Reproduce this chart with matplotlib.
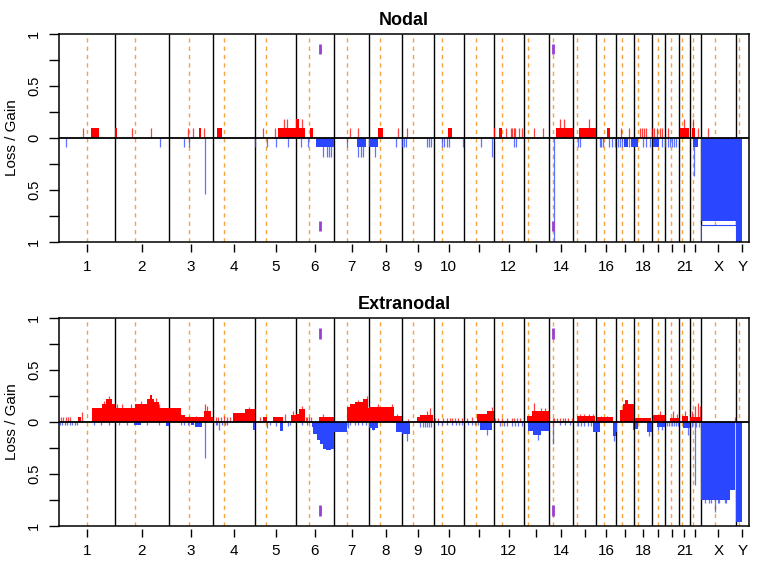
import matplotlib
matplotlib.use("Agg")
from matplotlib import pyplot as plt
from matplotlib.patches import Rectangle
import numpy as np

plt.rcParams["font.family"] = ["Liberation Sans", "DejaVu Sans"]

# hg19 chromosome sizes and centromere midpoints (Mb)
chrom_names = [str(i) for i in range(1, 23)] + ["X", "Y"]
chrom_len = [249.25, 243.2, 198.02, 191.15, 180.92, 171.12, 159.14, 146.36, 141.21, 135.53,
             135.01, 133.85, 115.17, 107.35, 102.53, 90.35, 81.2, 78.08, 59.13, 63.03,
             48.13, 51.3, 155.27, 59.37]
centromere = [125.0, 93.3, 91.0, 50.4, 48.4, 61.0, 59.9, 45.6, 49.0, 40.2, 53.7, 35.8,
              17.9, 17.6, 19.0, 36.6, 24.0, 17.2, 26.5, 27.5, 13.2, 14.7, 60.6, 12.5]
tick_labels = ["1", "2", "3", "4", "5", "6", "7", "8", "9", "10", "", "12", "", "14", "",
               "16", "", "18", "", "", "21", "", "X", "Y"]

# Nodal: (chrom, start Mb, end Mb, frequency)
nodal_gain_seg = [
    ("1", 142, 181, .091), ("2", 0, 9, .091), ("3", 134, 145, .091), ("4", 20, 40, .091),
    ("5", 103, 180.9, .091), ("6", 0, 41, .091), ("6", 0, 14, .182), ("6", 63, 78, .091),
    ("8", 40, 62, .091), ("10", 66, 81, .091), ("12", 0, 5, .091), ("12", 24, 35, .091),
    ("14", 30, 105, .091), ("15", 27, 102, .091), ("16", 47, 62, .091),
    ("21", 4, 46, .091), ("22", 9, 24, .091),
]
# Nodal single-probe bars: (chrom, position Mb, frequency)
nodal_gain_pts = [
    ("1", 109, .091), ("2", 79, .091), ("2", 162, .091), ("3", 87, .091), ("3", 110, .091),
    ("3", 158, .091), ("5", 35, .091), ("5", 86, .091), ("5", 128, .182), ("5", 143, .182),
    ("6", 28, .182), ("7", 72, .091), ("7", 109, .091), ("8", 129, .091), ("9", 20, .091),
    ("12", 56, .091), ("12", 76, .091), ("12", 83, .091), ("12", 90, .091), ("12", 97, .091),
    ("12", 114, .091), ("12", 128, .091), ("13", 46, .091), ("13", 88, .091),
    ("14", 47, .182), ("14", 65, .182), ("15", 70, .182), ("17", 20, .091), ("17", 58, .091),
    ("18", 27, .091), ("18", 36, .091), ("18", 43, .091), ("18", 54, .091),
    ("19", 2, .091), ("19", 12, .091), ("19", 23, .091), ("19", 35, .091), ("19", 46, .091),
    ("20", 15, .091), ("21", 22, .182), ("22", 15, .182), ("22", 39, .091), ("X", 32, .091),
]
nodal_loss_seg = [
    ("6", 90, 171.1, .091), ("7", 102, 142, .091), ("8", 0, 40, .091),
    ("17", 36, 51, .091), ("17", 66, 81.2, .091), ("18", 0, 15, .091), ("19", 7, 32, .091),
    ("22", 16, 39, .091), ("X", 0, 155.27, .8), ("Y", 0, 27, 1.0),
]
nodal_loss_pts = [
    ("1", 33, .091), ("2", 204, .091), ("3", 68, .091), ("3", 90, .091), ("3", 161, .545),
    ("4", 188, .091), ("5", 50, .091), ("5", 91, .091), ("5", 145, .091),
    ("6", 22, .091), ("6", 53, .091), ("6", 123, .182), ("6", 138, .182), ("6", 148, .182),
    ("6", 160, .182), ("7", 57, .091), ("7", 109, .182), ("7", 121, .182), ("7", 132, .182),
    ("8", 25, .182), ("8", 118, .091), ("9", 1, .091), ("9", 9, .091), ("9", 18, .091),
    ("9", 114, .091), ("9", 123, .091), ("9", 132, .091), ("10", 37, .091), ("10", 48, .091),
    ("10", 59, .091), ("10", 70, .091), ("10", 133, .091), ("11", 77, .091), ("11", 129, .182),
    ("12", 89, .091), ("12", 98, .091), ("14", 20, 1.0), ("15", 23, .091), ("15", 30, .091),
    ("16", 17, .091), ("16", 22, .091), ("16", 33, .091), ("16", 58, .091), ("16", 73, .091),
    ("16", 85, .091), ("17", 7, .091), ("17", 18, .091), ("17", 28, .091), ("17", 59, .091),
    ("18", 41, .091), ("18", 52, .091), ("18", 71, .091), ("19", 48, .091),
    ("20", 2, .091), ("20", 13, .091), ("20", 23, .091), ("20", 32, .091), ("20", 41, .091),
    ("20", 50, .091), ("22", 21, .364),
]
nodal_x_outline = ("X", 0, 155.27, .835)

# Extranodal
extra_gain_seg = [
    ("1", 85, 100, .05), ("1", 150, 194, .135), ("1", 194, 209, .17), ("1", 209, 239, .215),
    ("1", 239, 249.2, .17), ("2", 0, 94, .135), ("2", 94, 146, .17), ("2", 146, 176, .215),
    ("2", 157, 167, .26), ("2", 176, 198, .19), ("2", 198, 243.2, .135),
    ("3", 0, 53, .135), ("3", 53, 75, .07), ("3", 75, 158, .042), ("3", 158, 188, .1),
    ("3", 188, 198, .05), ("4", 90, 144, .085), ("4", 144, 189, .125),
    ("5", 35, 50, .05), ("5", 80, 125, .042), ("5", 160, 180.9, .07),
    ("6", 0, 15, .08), ("6", 15, 40, .12), ("6", 105, 170, .042),
    ("7", 57, 72, .14), ("7", 72, 94, .17), ("7", 94, 131, .19), ("7", 131, 154, .22),
    ("7", 154, 159.1, .13), ("8", 0, 110, .14), ("8", 110, 146.3, .06),
    ("9", 65, 80, .042), ("9", 80, 140, .07), ("11", 58, 103, .08), ("11", 103, 135, .1),
    ("13", 13, 36, .06), ("13", 36, 115, .1), ("15", 15, 97, .06), ("16", 2, 77, .045),
    ("17", 17, 31, .11), ("17", 31, 81.2, .17), ("17", 39, 54, .21), ("18", 3, 76, .035),
    ("19", 7, 59, .064), ("20", 22, 63, .04), ("21", 12, 42, .06), ("22", 2, 51, .05),
]
extra_gain_pts = [
    ("1", 7, .042), ("1", 18, .042), ("1", 30, .042), ("1", 40, .042), ("1", 49, .042),
    ("1", 102, .09), ("1", 200, .2), ("1", 225, .25), ("2", 12, .17), ("2", 35, .17),
    ("2", 72, .17), ("2", 120, .2), ("2", 185, .23), ("2", 200, .17),
    ("3", 93, .06), ("3", 121, .06), ("3", 163, .176), ("3", 170, .15),
    ("4", 15, .042), ("4", 25, .042), ("4", 38, .042), ("4", 50, .06), ("4", 62, .042),
    ("4", 75, .042), ("4", 160, .14), ("5", 20, .042), ("5", 132, .08), ("5", 170, .1),
    ("6", 29, .15), ("6", 45, .042), ("6", 52, .042), ("6", 58, .042), ("6", 66, .042),
    ("6", 123, .08), ("7", 110, .21), ("7", 150, .25), ("8", 40, .17), ("8", 100, .17),
    ("8", 125, .08), ("9", 28, .03), ("9", 110, .1), ("9", 125, .13),
    ("10", 5, .035), ("10", 20, .035), ("10", 44, .035), ("10", 60, .035), ("10", 73, .035),
    ("10", 85, .035), ("10", 96, .035), ("10", 111, .035), ("10", 126, .035),
    ("11", 13, .035), ("11", 36, .042), ("11", 125, .14),
    ("12", 5, .035), ("12", 20, .035), ("12", 35, .035), ("12", 57, .035), ("12", 80, .035),
    ("12", 90, .035), ("12", 102, .035), ("12", 117, .035),
    ("13", 46, .18), ("13", 76, .13), ("13", 96, .13),
    ("14", 15, .04), ("14", 22, .04), ("14", 33, .04), ("14", 48, .04), ("14", 60, .04),
    ("14", 70, .04), ("14", 85, .04), ("14", 100, .04),
    ("15", 30, .08), ("15", 50, .08), ("15", 70, .08), ("15", 88, .08),
    ("16", 20, .06), ("16", 50, .06), ("19", 37, .1), ("20", 37, .1), ("20", 56, .08),
    ("21", 28, .1), ("22", 9, .1), ("22", 24, .15), ("22", 36, .18), ("22", 46, .15),
    ("X", 150, .05),
]
extra_loss_seg = [
    ("2", 87, 117, .035), ("2", 229, 243, .04), ("3", 100, 115, .035), ("3", 120, 150, .048),
    ("4", 181, 190, .075), ("5", 110, 125, .09),
    ("6", 71, 78, .05), ("6", 78, 93, .12), ("6", 93, 108, .17), ("6", 108, 123, .21),
    ("6", 123, 171.1, .26), ("6", 135, 160, .27), ("7", 0, 57, .096),
    ("8", 0, 40, .06), ("8", 10, 25, .08), ("8", 120, 146.3, .1), ("9", 0, 35, .12),
    ("11", 73, 125, .08), ("13", 21, 115, .09), ("13", 40, 80, .13),
    ("15", 90, 102.5, .096), ("16", 0, 17, .096), ("16", 75, 90.3, .14),
    ("17", 0, 5, .1), ("17", 76, 81.2, .08), ("18", 3, 18, .07), ("18", 55, 78, .1),
    ("19", 22, 59, .05), ("21", 19, 48, .06),
    ("X", 0, 129, .753), ("X", 129, 150, .657), ("Y", 0, 27, .96),
]
extra_loss_pts = [
    ("1", 3, .035), ("1", 15, .035), ("1", 25, .035), ("1", 37, .035), ("1", 48, .035),
    ("1", 60, .035), ("1", 72, .035), ("1", 79, .035), ("1", 157, .035), ("1", 187, .035),
    ("1", 224, .035), ("2", 20, .035), ("2", 57, .035), ("2", 146, .035), ("2", 198, .035),
    ("3", 53, .035), ("3", 70, .035), ("3", 85, .035), ("3", 161, .35),
    ("4", 12, .035), ("4", 20, .035), ("4", 27, .08), ("4", 40, .035), ("4", 55, .035),
    ("4", 64, .035), ("5", 50, .06), ("5", 65, .035), ("5", 91, .04), ("5", 147, .04),
    ("5", 155, .035), ("6", 26, .035), ("6", 48, .035),
    ("7", 65, .06), ("7", 72, .03), ("7", 94, .03), ("7", 108, .03), ("7", 126, .03),
    ("7", 144, .03), ("8", 18, .08), ("9", 20, .18), ("9", 82, .05), ("9", 92, .05),
    ("9", 102, .05), ("9", 112, .05), ("9", 122, .05), ("9", 132, .05),
    ("10", 20, .03), ("10", 36, .03), ("10", 60, .03), ("10", 85, .03), ("10", 100, .03),
    ("10", 115, .03), ("10", 130, .03), ("11", 20, .03), ("11", 35, .03), ("11", 50, .03),
    ("11", 65, .03), ("11", 103, .13), ("12", 27, .04), ("12", 45, .04), ("12", 60, .04),
    ("12", 80, .04), ("12", 95, .04), ("12", 110, .04), ("12", 125, .04), ("13", 63, .176),
    ("14", 18, .21), ("14", 47, .03), ("14", 70, .03), ("14", 92, .03),
    ("15", 20, .04), ("15", 35, .04), ("15", 50, .04), ("15", 65, .04), ("15", 80, .04),
    ("16", 82, .18), ("18", 65, .14), ("19", 30, .08), ("19", 45, .08),
    ("20", 8, .04), ("20", 20, .04), ("20", 30, .04), ("20", 40, .04), ("20", 50, .04),
    ("20", 60, .04), ("21", 42, .13), ("22", 10, .05), ("22", 24, .61), ("22", 30, .05),
    ("22", 40, .05), ("X", 16, .78), ("X", 35, .78), ("X", 42, .78), ("X", 75, .78),
    ("X", 80, .78), ("X", 105, .78), ("X", 112, .78), ("X", 63, .865),
]

# marked loci (chrom, Mb)
marker_chrom = ["6", "14"]
marker_pos = [106.5, 18.0]

RED = "#ff0000"
BLUE = "#2b46ff"
ORANGE = "#f3a33f"
PURPLE = "#9a3fd0"

starts = np.concatenate([[0], np.cumsum(chrom_len)[:-1]])
offset = dict(zip(chrom_names, starts))
total = float(np.sum(chrom_len))
mids = starts + np.array(chrom_len) / 2


def draw_seg(ax, segs, color, sign):
    x = [offset[c] + s for c, s, e, v in segs]
    w = [e - s for c, s, e, v in segs]
    h = [sign * v for c, s, e, v in segs]
    ax.bar(x, h, width=w, align="edge", color=color, linewidth=0, zorder=3)


def draw_pts(ax, pts, color, sign):
    # single-probe bars drawn as 1px strokes
    for c, p, v in pts:
        ax.plot([offset[c] + p] * 2, [0, sign * v], color=color, lw=0.9, alpha=0.75,
                solid_capstyle="butt", zorder=3)


fig = plt.figure(figsize=(7.59, 5.67), dpi=100)

panels = [
    ("Nodal", [0.0777, 0.5737, 0.9091, 0.3672], nodal_gain_seg, nodal_gain_pts,
     nodal_loss_seg, nodal_loss_pts),
    ("Extranodal", [0.0777, 0.0723, 0.9091, 0.3674], extra_gain_seg, extra_gain_pts,
     extra_loss_seg, extra_loss_pts),
]

for i, (title, rect, gseg, gpts, lseg, lpts) in enumerate(panels):
    ax = fig.add_axes(rect)
    ax.set_xlim(0, total)
    ax.set_ylim(-1, 1)

    ax.vlines(starts[1:], -1, 1, color="black", lw=1.0, zorder=1)
    ax.vlines(starts + np.array(centromere), -1, 1, color=ORANGE, lw=1.0,
              linestyles=(0, (3, 3)), zorder=2)

    draw_seg(ax, gseg, RED, 1)
    draw_pts(ax, gpts, RED, 1)
    draw_seg(ax, lseg, BLUE, -1)
    draw_pts(ax, lpts, BLUE, -1)

    if i == 0:
        c, s, e, v = nodal_x_outline
        ax.add_patch(Rectangle((offset[c] + s, -1), e - s, 1 - v, facecolor="white",
                               edgecolor=BLUE, lw=0.8, zorder=4))

    for c, p in zip(marker_chrom, marker_pos):
        ax.vlines(offset[c] + p, 0.8, 0.9, color=PURPLE, lw=2, zorder=5)
        ax.vlines(offset[c] + p, -0.9, -0.8, color=PURPLE, lw=2, zorder=5)

    ax.axhline(0, color="black", lw=1.3, zorder=6)

    for sp in ax.spines.values():
        sp.set_linewidth(1.1)
        sp.set_zorder(7)

    ax.set_yticks([-1, -0.75, -0.5, -0.25, 0, 0.25, 0.5, 0.75, 1])
    ax.set_yticklabels(["1", "", "0.5", "", "0", "", "0.5", "", "1"], rotation=90,
                       va="center", fontsize=10.5)
    ax.tick_params(axis="y", length=7, width=1, pad=6)
    ax.set_xticks([])

    sec = ax.secondary_xaxis(-0.013)
    sec.spines["bottom"].set_visible(False)
    sec.set_xticks(mids, labels=tick_labels)
    sec.tick_params(axis="x", length=6, width=1, pad=5, labelsize=11)

    top_px = 33.5 if i == 0 else 317.7
    fig.text(404 / 759, 1 - (top_px - 8.5) / 567, title, ha="center", va="baseline",
             fontsize=13, fontweight="bold")
    fig.text(12.5 / 759, rect[1] + rect[3] / 2, "Loss / Gain", rotation=90,
             ha="center", va="center", fontsize=11)

fig.savefig("out.png", dpi=100)
